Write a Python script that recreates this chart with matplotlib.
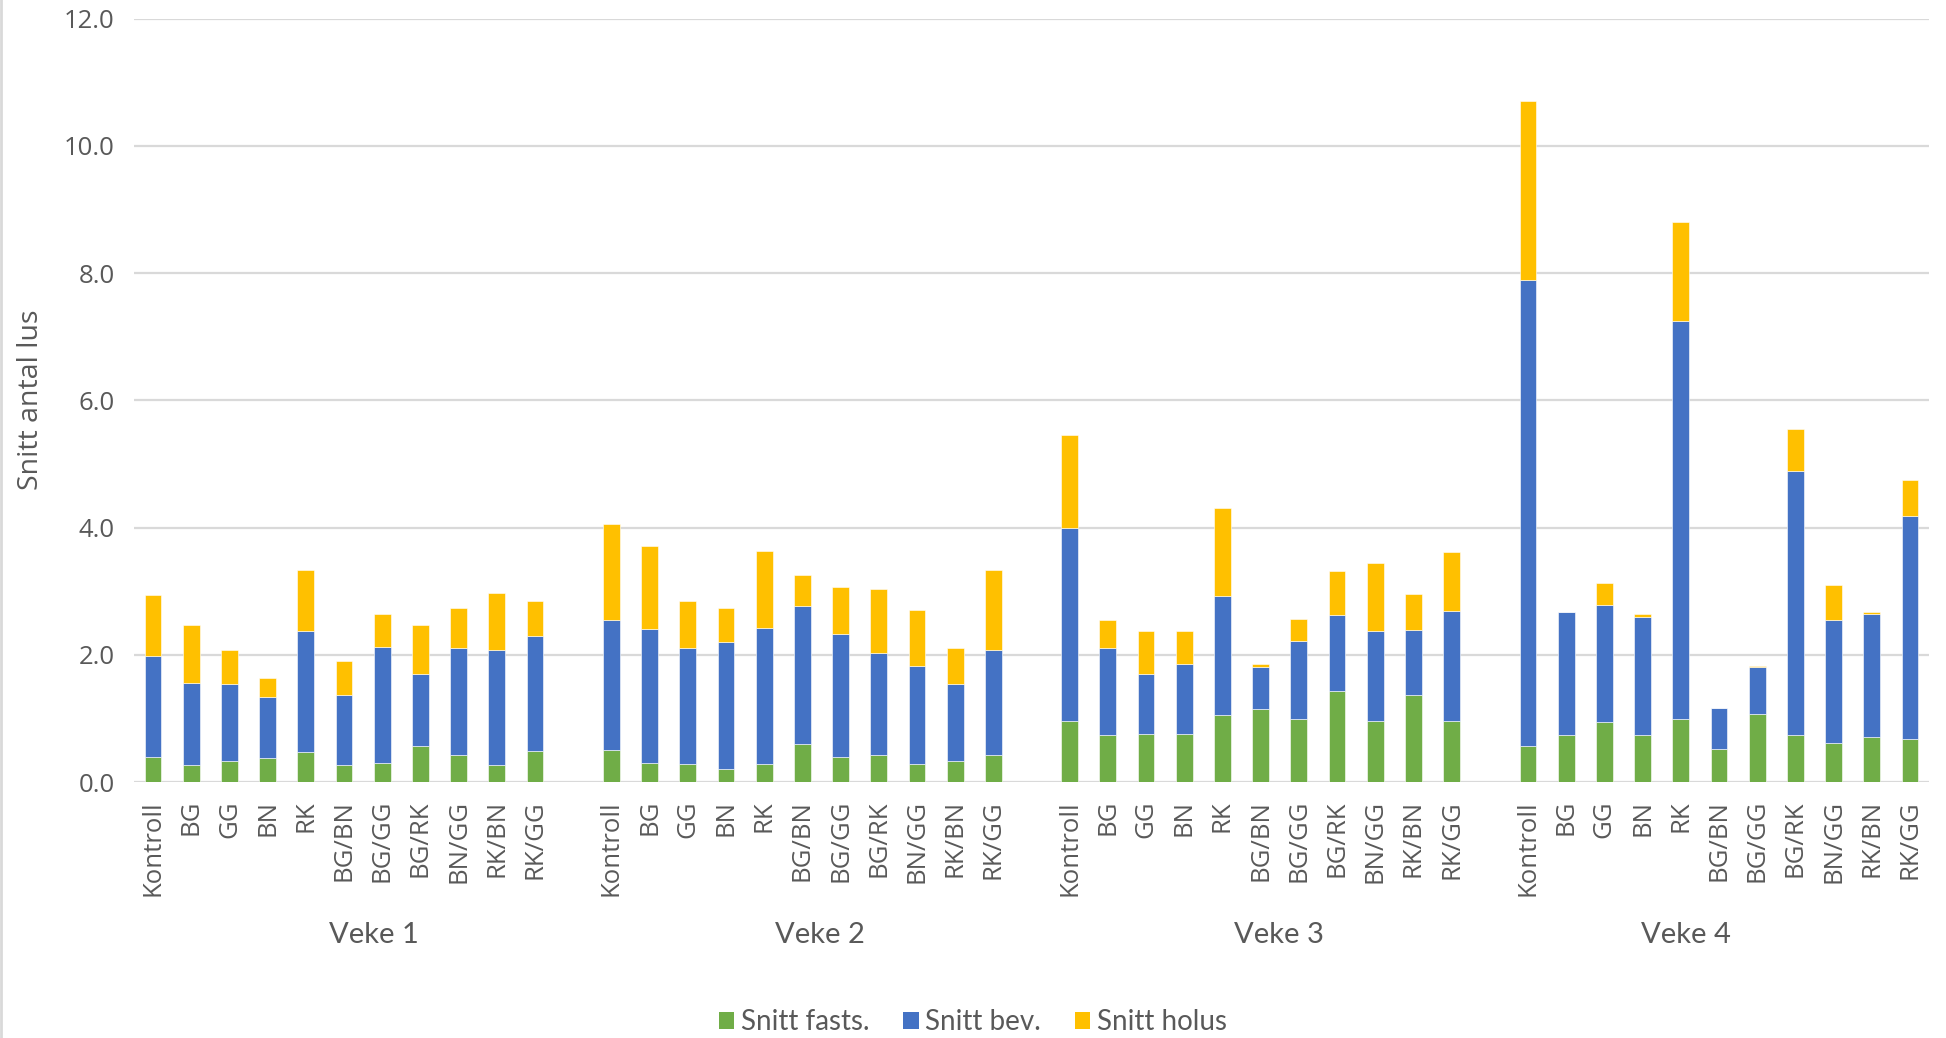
import matplotlib
matplotlib.use("Agg")
import matplotlib.pyplot as plt
from matplotlib.patches import Patch
from matplotlib.lines import Line2D
from matplotlib.transforms import blended_transform_factory

categories = ["Kontroll", "BG", "GG", "BN", "RK", "BG/BN", "BG/GG", "BG/RK", "BN/GG", "RK/BN", "RK/GG"]
weeks = ["Veke 1", "Veke 2", "Veke 3", "Veke 4"]
series_names = ["Snitt fasts.", "Snitt bev.", "Snitt holus"]

fasts = [
    [0.40, 0.27, 0.33, 0.37, 0.47, 0.27, 0.30, 0.57, 0.42, 0.27, 0.49],
    [0.50, 0.30, 0.28, 0.21, 0.28, 0.60, 0.40, 0.42, 0.28, 0.33, 0.42],
    [0.96, 0.74, 0.76, 0.76, 1.06, 1.14, 0.99, 1.43, 0.96, 1.36, 0.96],
    [0.57, 0.74, 0.94, 0.74, 0.99, 0.52, 1.07, 0.74, 0.62, 0.70, 0.67],
]
bev = [
    [1.58, 1.29, 1.21, 0.97, 1.91, 1.09, 1.82, 1.13, 1.68, 1.81, 1.81],
    [2.05, 2.10, 1.82, 1.99, 2.14, 2.17, 1.92, 1.61, 1.55, 1.21, 1.66],
    [3.03, 1.36, 0.94, 1.09, 1.87, 0.66, 1.23, 1.20, 1.41, 1.03, 1.73],
    [7.32, 1.93, 1.85, 1.86, 6.26, 0.64, 0.73, 4.15, 1.93, 1.94, 3.51],
]
holus = [
    [0.96, 0.91, 0.54, 0.30, 0.95, 0.54, 0.52, 0.77, 0.64, 0.89, 0.54],
    [1.50, 1.31, 0.74, 0.54, 1.21, 0.49, 0.74, 1.01, 0.87, 0.56, 1.26],
    [1.46, 0.44, 0.67, 0.52, 1.38, 0.05, 0.34, 0.68, 1.08, 0.57, 0.93],
    [2.81, 0.00, 0.34, 0.04, 1.56, 0.00, 0.03, 0.66, 0.54, 0.03, 0.56],
]
yticks = [0, 2, 4, 6, 8, 10, 12]

colors = ["#70AD47", "#4472C4", "#FFC000"]
text_color = "#595959"
grid_color = "#D9D9D9"

W, H = 1946, 1038
fig = plt.figure(figsize=(W / 100, H / 100), dpi=100)
ax = fig.add_axes([134 / W, 1 - 782 / H, (1929 - 134) / W, (782 - 18.6) / H])

n_cat = len(categories)
slot = n_cat + 1
xs, labels, f_all, b_all, h_all = [], [], [], [], []
for g in range(len(weeks)):
    for i in range(n_cat):
        xs.append(g * slot + i)
        labels.append(categories[i])
        f_all.append(fasts[g][i])
        b_all.append(bev[g][i])
        h_all.append(holus[g][i])

bw = 0.44
bottom1 = f_all
bottom2 = [a + b for a, b in zip(f_all, b_all)]
ax.bar(xs, f_all, width=bw, color=colors[0], edgecolor="white", linewidth=0.4, zorder=3)
ax.bar(xs, b_all, width=bw, bottom=bottom1, color=colors[1], edgecolor="white", linewidth=0.4, zorder=3)
ax.bar(xs, h_all, width=bw, bottom=bottom2, color=colors[2], edgecolor="white", linewidth=0.4, zorder=3)

total_slots = len(weeks) * slot - 1
ax.set_xlim(-0.5, total_slots - 0.5)
ax.set_ylim(0, 12)
ax.set_yticks(yticks)
ax.set_yticklabels([f"{v:.1f}" for v in yticks], fontsize=18.5, color=text_color, family="Open Sans")
ax.yaxis.grid(True, color=grid_color, linewidth=1.6, zorder=0)
ax.set_axisbelow(True)
ax.set_xticks(xs)
ax.set_xticklabels(labels, rotation=90, fontsize=18.5, color=text_color, family="Open Sans", va="top")
ax.tick_params(axis="both", length=0)
ax.tick_params(axis="x", pad=13)
ax.tick_params(axis="y", pad=14)
for s in ax.spines.values():
    s.set_visible(False)

# group labels (Excel placed them slightly off-centre)
label_shift = [0.78, 0.46, 0.47, -0.86]
trans = blended_transform_factory(ax.transData, ax.transAxes)
for g, wk in enumerate(weeks):
    cx = g * slot + (n_cat - 1) / 2 + label_shift[g]
    ax.text(cx, (782 - 935) / (782 - 18.6), wk, transform=trans, ha="center", va="center",
            fontsize=21, color=text_color, family="Lato")

fig.text(31 / W, 1 - 400 / H, "Snitt antal lus", rotation=90, ha="center", va="center",
         fontsize=20.5, color=text_color, family="Open Sans")

handles = [Patch(facecolor=c, edgecolor="none") for c in colors]
fig.legend(handles, series_names, loc="center", bbox_to_anchor=(0.5, 1 - 1022 / H), ncol=3,
           frameon=False, handlelength=0.55, handleheight=0.55, handletextpad=0.25,
           columnspacing=1.2, prop={"family": "Lato", "size": 20}, labelcolor=text_color)

fig.add_artist(Line2D([1 / W, 1 / W], [0, 1], transform=fig.transFigure, color="#D9D9D9", linewidth=2))

fig.savefig("out.png", dpi=100)
